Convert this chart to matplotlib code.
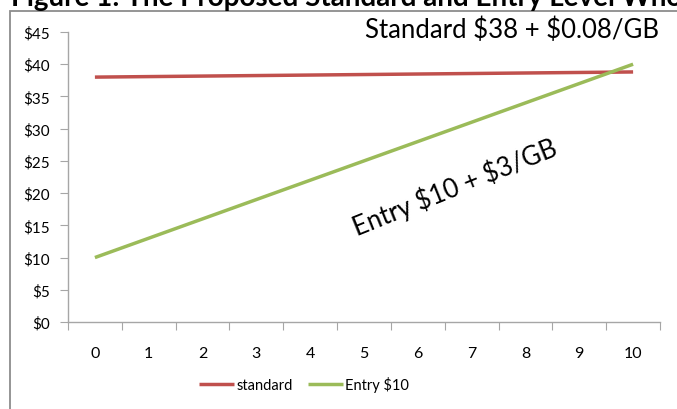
import matplotlib
matplotlib.use("Agg")
import matplotlib.pyplot as plt
from matplotlib.patches import Rectangle

plt.rcParams["font.family"] = ["Lato", "DejaVu Sans"]

# monthly charge vs usage (GB)
usage_gb = [0, 1, 2, 3, 4, 5, 6, 7, 8, 9, 10]
standard = [38.0, 38.08, 38.16, 38.24, 38.32, 38.40, 38.48, 38.56, 38.64, 38.72, 38.80]
entry = [10, 13, 16, 19, 22, 25, 28, 31, 34, 37, 40]
y_ticks = [0, 5, 10, 15, 20, 25, 30, 35, 40, 45]

RED = "#C0504D"
GREEN = "#9BBB59"
AXIS = "#A6A6A6"

W, H = 677, 410
fig = plt.figure(figsize=(W / 100, H / 100), dpi=100)

# chart border (runs off the right and bottom edge)
fig.patches.append(Rectangle((10 / W, -0.05), 1.0, 1 - 12 / H + 0.05,
                             transform=fig.transFigure, fill=False,
                             edgecolor="#8C8C8C", lw=1.3))

fig.text(11 / W, 1 - 6 / H, "Figure 1: The Proposed Standard and Entry Level Wholesale Pricing",
         fontsize=20, fontweight="bold", ha="left", va="baseline")

ax = fig.add_axes([68 / W, 1 - 323 / H, (660 - 68) / W, (323 - 33) / H])
ax.plot(usage_gb, standard, color=RED, lw=2.5, label="standard", solid_capstyle="butt")
ax.plot(usage_gb, entry, color=GREEN, lw=2.5, label="Entry \\$10", solid_capstyle="butt")

ax.set_xlim(-0.5, 10.5)
ax.set_ylim(0, 45)
ax.set_yticks(y_ticks)
ax.set_yticklabels([f"\\${v}" for v in y_ticks])
ax.set_xticks([i - 0.5 for i in range(12)])
ax.set_xticklabels([])
ax.set_xticks(usage_gb, minor=True)
ax.set_xticklabels([str(v) for v in usage_gb], minor=True)
ax.tick_params(axis="x", which="major", length=6, color=AXIS, direction="out")
ax.tick_params(axis="x", which="minor", length=0, pad=17, labelsize=11.5)
ax.tick_params(axis="y", length=6, color=AXIS, pad=7, labelsize=11)
for s in ("top", "right"):
    ax.spines[s].set_visible(False)
for s in ("left", "bottom"):
    ax.spines[s].set_color(AXIS)
    ax.spines[s].set_linewidth(1.0)

fig.text(365 / W, 1 - 38 / H, "Standard \\$38 + \\$0.08/GB", fontsize=18.5,
         ha="left", va="baseline")
fig.text(455 / W, 1 - 187 / H, "Entry \\$10 + \\$3/GB", fontsize=18.5,
         ha="center", va="center", rotation=22, rotation_mode="anchor")

fig.legend(loc="center", bbox_to_anchor=(304 / W, 1 - 385 / H), ncol=2,
           frameon=False, fontsize=10.5, handlelength=2.4, handletextpad=0.2,
           columnspacing=1.0)

fig.savefig("out.png", dpi=100)
